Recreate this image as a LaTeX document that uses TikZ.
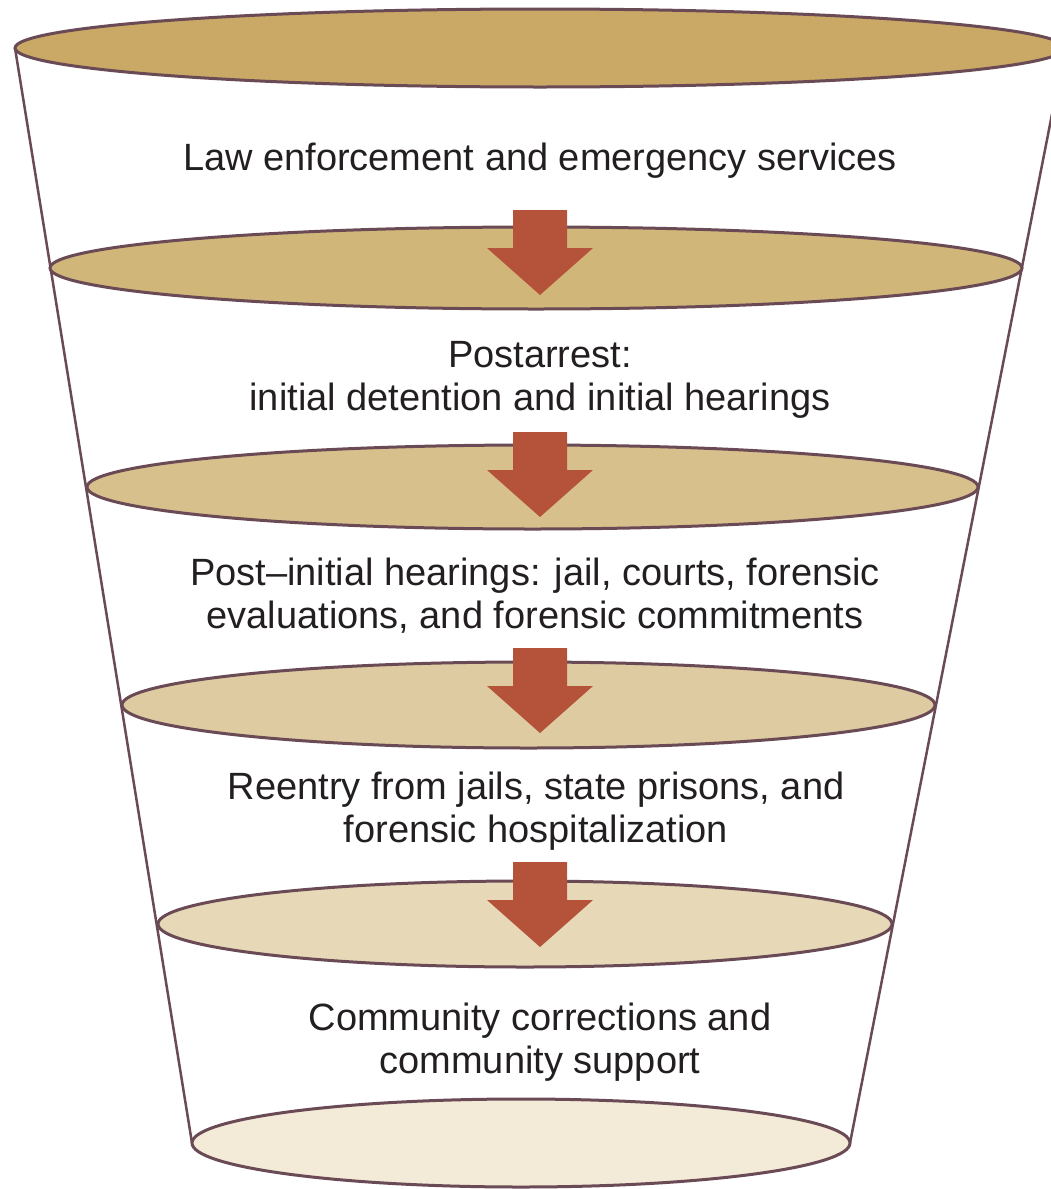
\documentclass[tikz,border=0pt]{standalone}
\usepackage{fontspec}
\setmainfont{Liberation Sans}
\begin{document}
\begin{tikzpicture}[x=1pt,y=-1pt,
  rim/.style={draw=rimcol,line width=3pt},
  side/.style={draw=rimcol,line width=2.5pt},
  label/.style={align=center,text=txtcol,font=\fontsize{38}{43}\selectfont,inner sep=0pt},
  downarrow/.pic={\fill[arrowcol] (-27,0) -- (27,0) -- (27,38) -- (53,38) -- (0,85) -- (-53,38) -- (-27,38) -- cycle;}]
\definecolor{rimcol}{HTML}{6A4B55}
\definecolor{arrowcol}{HTML}{B4533A}
\definecolor{txtcol}{HTML}{231F20}
\definecolor{fa}{HTML}{C9A965}
\definecolor{fb}{HTML}{D1B679}
\definecolor{fc}{HTML}{D8C08D}
\definecolor{fd}{HTML}{DECBA2}
\definecolor{fe}{HTML}{E7D9B8}
\definecolor{ff}{HTML}{F3EAD8}
\useasboundingbox (0,0) rectangle (1051,1189);
\clip (0,0) rectangle (1051,1189);
% funnel outline
\coordinate (TL) at (15,48);
\coordinate (TR) at (1065,48);
\coordinate (BL) at (192,1143);
\coordinate (BR) at (850,1143);
\draw[side] (TL) -- (BL);
\draw[side] (TR) -- (BR);
% rims
\draw[rim,fill=fa] (540,48) ellipse [x radius=525,y radius=39];
\draw[rim,fill=fb] (536,268) ellipse [x radius=486,y radius=41];
\draw[rim,fill=fc] (532.5,487) ellipse [x radius=445.5,y radius=42];
\draw[rim,fill=fd] (528.5,705) ellipse [x radius=406.5,y radius=43];
\draw[rim,fill=fe] (525,924) ellipse [x radius=367,y radius=43];
\draw[rim,fill=ff] (521,1143) ellipse [x radius=329,y radius=44];
% arrows
\pic at (540,210) {downarrow};
\pic at (540,432) {downarrow};
\pic at (540,648) {downarrow};
\pic at (540,862) {downarrow};
% labels
\node[label] (t1) at (540,161) {Law enforcement and emergency services};
\node[label] (t2) at (540,380) {Postarrest:\\initial detention and initial hearings};
\node[label] (t3) at (535,596) {Post–initial hearings: jail, courts, forensic\\evaluations, and forensic commitments};
\node[label] (t4) at (536,811) {Reentry from jails, state prisons, and\\forensic hospitalization};
\node[label] (t5) at (540,1042) {Community corrections and\\community support};
\end{tikzpicture}
\end{document}
